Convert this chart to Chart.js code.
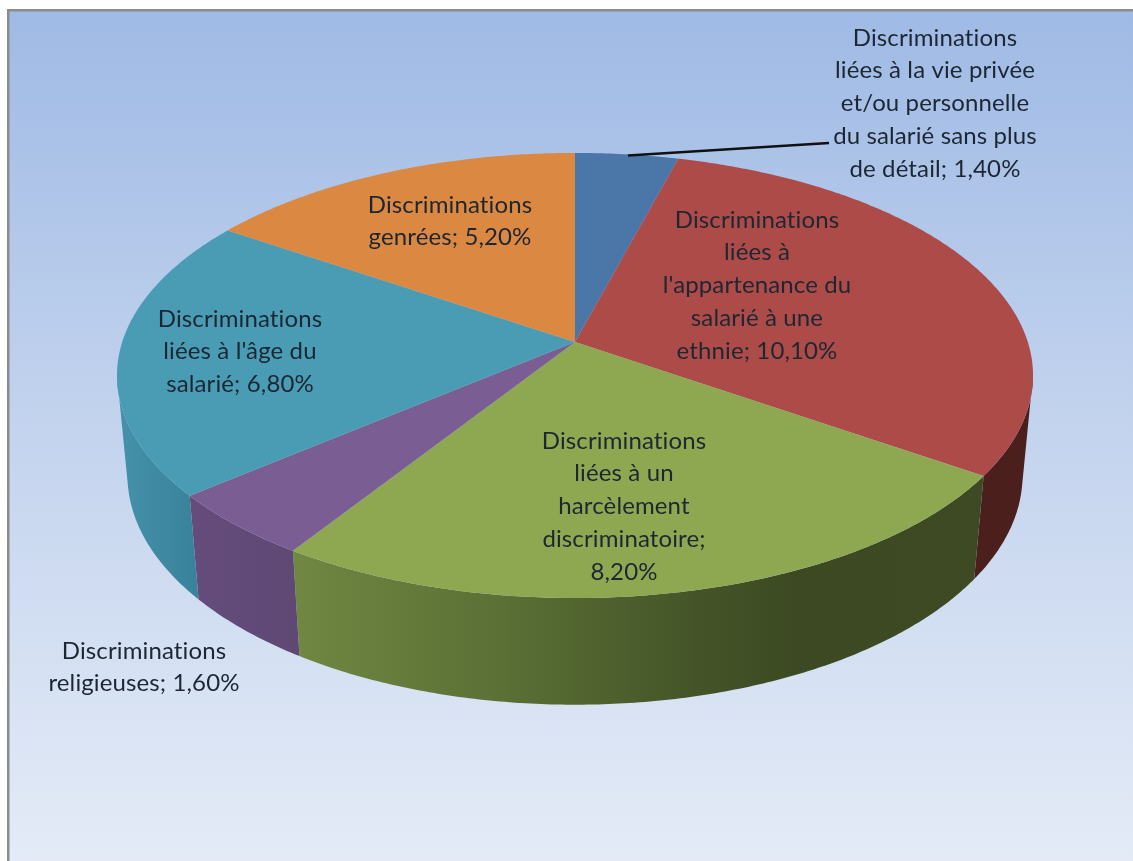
<!DOCTYPE html>
<html>
<head>
<meta charset="utf-8">
<script src="https://cdn.jsdelivr.net/npm/chart.js@4"></script>
<style>
  html, body { margin: 0; padding: 0; background: #fff; overflow: hidden; }
  #wrap { position: relative; width: 1133px; height: 861px; }
  canvas { filter: blur(0.5px); }
</style>
</head>
<body>
<div id="wrap"><canvas id="chart"></canvas></div>
<script>
const categories = [
  "Discriminations liées à la vie privée et/ou personnelle du salarié sans plus de détail",
  "Discriminations liées à l'appartenance du salarié à une ethnie",
  "Discriminations liées à un harcèlement discriminatoire",
  "Discriminations religieuses",
  "Discriminations liées à l'âge du salarié",
  "Discriminations genrées",
];
const shares = [1.4, 10.1, 8.2, 1.6, 6.8, 5.2];
const sliceColours = ['#4a76a8', '#ad4b48', '#8da851', '#7a5e93', '#4a9cb4', '#db8842'];

// how each label is broken into lines, last line gets the value
const labelLines = [
  ['Discriminations', 'liées à la vie privée', 'et/ou personnelle', 'du salarié sans plus', 'de détail;'],
  ['Discriminations', 'liées à', "l'appartenance du", 'salarié à une', 'ethnie;'],
  ['Discriminations', 'liées à un', 'harcèlement', 'discriminatoire;', ''],
  ['Discriminations', 'religieuses;'],
  ['Discriminations', "liées à l'âge du", 'salarié;'],
  ['Discriminations', 'genrées;'],
];
const labelCentres = [[935, 38], [757, 220], [624, 441], [144, 651], [240, 319], [450, 205]];
const wallStops = [
  null,
  [[975, '#4a1f1c'], [1033, '#4a1f1c']],
  [[292, '#708842'], [500, '#5a7035'], [700, '#445428'], [800, '#3c4922'], [985, '#3e4a23']],
  [[190, '#654c7c'], [300, '#5f4874']],
  [[117, '#4592aa'], [200, '#39819a']],
  null,
];

// perspective of the disc: top face and the lower rim
const disc = { cx: 575, cy: 342, a: 452.8, b: 217.5, k: 0.1505 };
const rim = { cy: 441, sx: 0.977, sy: 1.03 };

function topPoint(angle) {
  const u = Math.cos(angle), v = Math.sin(angle);
  const w = 1 - disc.k * v;
  return [disc.cx + disc.a * u / w, disc.cy + disc.b * v / w];
}
function rimPoint(angle) {
  const u = Math.cos(angle), v = Math.sin(angle);
  const w = 1 - disc.k * v;
  return [disc.cx + rim.sx * disc.a * u / w, rim.cy + rim.sy * disc.b * v / w];
}

const fakeDisc = {
  id: 'fakeDisc',
  beforeDraw(chart) {
    const ctx = chart.ctx;
    ctx.save();
    ctx.fillStyle = '#fff';
    ctx.fillRect(0, 0, 1133, 861);
    const bg = ctx.createLinearGradient(0, 11, 0, 861);
    bg.addColorStop(0, '#9fbae5');
    bg.addColorStop(0.5, '#c4d4ee');
    bg.addColorStop(1, '#e4ebf7');
    ctx.fillStyle = bg;
    ctx.fillRect(9, 11, 1124, 850);
    ctx.fillStyle = '#8c8c8c';
    ctx.fillRect(7, 9, 1126, 2.5);
    ctx.fillRect(7, 9, 2.5, 852);
    ctx.restore();
  },
  beforeDatasetDraw(chart) {
    const ctx = chart.ctx;
    const arcs = chart.getDatasetMeta(0).data;
    const step = 0.01;
    // the wall is seen from slightly different angles at top and bottom
    const topEdge = 0.15, rimEdge = 0.2;
    ctx.save();
    // side walls first
    arcs.forEach((arc, i) => {
      if (!wallStops[i]) return;
      const t0 = Math.max(arc.startAngle, topEdge), t1 = Math.min(arc.endAngle, Math.PI - topEdge);
      const r0 = Math.max(arc.startAngle, rimEdge), r1 = Math.min(arc.endAngle, Math.PI - rimEdge);
      const stops = wallStops[i];
      const x0 = stops[0][0], x1 = stops[stops.length - 1][0];
      const grad = ctx.createLinearGradient(x0, 0, x1, 0);
      stops.forEach(s => grad.addColorStop((s[0] - x0) / (x1 - x0), s[1]));
      ctx.fillStyle = grad;
      ctx.beginPath();
      for (let a = t0; a < t1; a += step) ctx.lineTo(...topPoint(a));
      ctx.lineTo(...topPoint(t1));
      ctx.lineTo(...rimPoint(r1));
      for (let a = r1; a > r0; a -= step) ctx.lineTo(...rimPoint(a));
      ctx.lineTo(...rimPoint(r0));
      ctx.closePath();
      ctx.fill();
    });
    // then the top face
    arcs.forEach((arc, i) => {
      ctx.fillStyle = sliceColours[i];
      ctx.beginPath();
      ctx.moveTo(disc.cx, disc.cy);
      for (let a = arc.startAngle; a < arc.endAngle; a += step) ctx.lineTo(...topPoint(a));
      ctx.lineTo(...topPoint(arc.endAngle));
      ctx.closePath();
      ctx.fill();
    });
    ctx.restore();
    return false;
  },
  afterDatasetsDraw(chart) {
    const ctx = chart.ctx;
    ctx.save();
    // leader line for the small slice
    ctx.strokeStyle = '#111';
    ctx.lineWidth = 2.4;
    ctx.beginPath();
    ctx.moveTo(628, 155.5);
    ctx.lineTo(829, 143);
    ctx.stroke();

    ctx.fillStyle = '#1c2733';
    ctx.font = '24px Lato';
    ctx.letterSpacing = '0.12px';
    ctx.textAlign = 'center';
    ctx.textBaseline = 'middle';
    const lineGap = 32.7;
    labelLines.forEach((lines, i) => {
      const value = shares[i].toFixed(2).replace('.', ',') + '%';
      const rows = lines.slice();
      const last = rows.length - 1;
      if (rows[last] === '') rows[last] = value;
      else rows[last] = rows[last] + ' ' + value;
      rows.forEach((t, n) => ctx.fillText(t, labelCentres[i][0], labelCentres[i][1] + n * lineGap));
    });
    ctx.restore();
  },
};

new Chart(document.getElementById('chart'), {
  type: 'pie',
  data: {
    labels: categories,
    datasets: [{ data: shares, backgroundColor: sliceColours, borderWidth: 0 }],
  },
  options: {
    responsive: true,
    maintainAspectRatio: false,
    animation: false,
    plugins: { legend: { display: false }, tooltip: { enabled: false } },
  },
  plugins: [fakeDisc],
});
</script>
</body>
</html>
